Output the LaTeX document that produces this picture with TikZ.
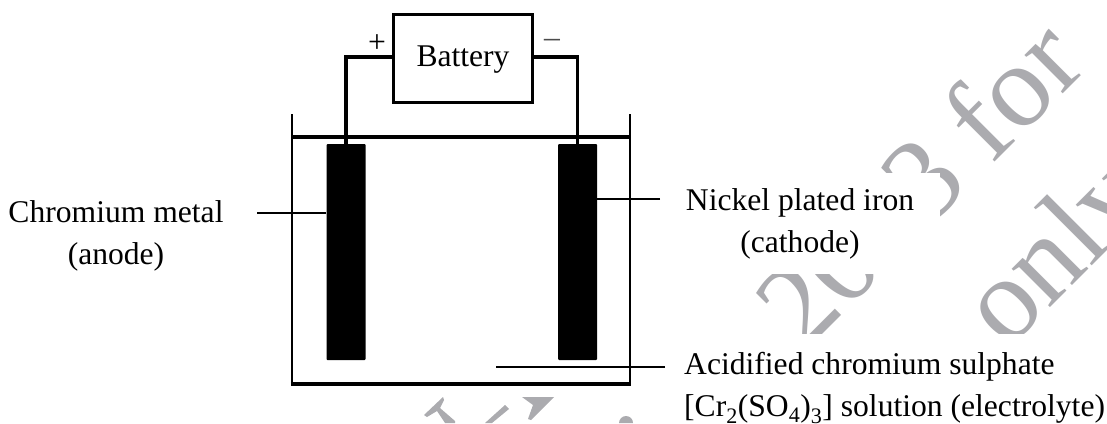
\documentclass[tikz,border=0pt]{standalone}
\usepackage{fontspec}
\setmainfont{Liberation Serif}
\definecolor{wm}{HTML}{ABABAF}
\tikzset{
  wire/.style={line width=3.4pt,line join=miter},
  thin wire/.style={line width=2.8pt},
  lab/.style={font=\fontsize{31.6}{42.5}\selectfont,inner sep=0pt,align=center},
  wmtext/.style={font=\fontsize{118}{118}\selectfont,text=wm,rotate=45,anchor=base west,inner sep=0pt},
  electrode/.style={fill=black,draw=none,rounded corners=1pt}
}
\begin{document}
\begin{tikzpicture}[x=1pt,y=-1pt]
\useasboundingbox (0,0) rectangle (1107,423);
% watermark fragments
\begin{scope}
\clip (880,0) rectangle (1107,172) (940,172) rectangle (1107,333) (745,274) rectangle (880,333);
\node[wmtext] (wma) at (804,353) {2023 for};
\node[wmtext] (wmb) at (1007,351) {only};
\end{scope}
\path[fill=wm] (424,415) -- (443,397) -- (444,400) -- (440,408) -- (455,421) -- (455,423) -- (445,423) -- (437,411) -- (427,417) -- cycle;
\path[fill=wm] (485,423) -- (505,405) -- (509,409) -- (492,423) -- cycle;
\path[fill=wm] (522,397) -- (554,397) -- (531,420) -- (528,419) -- (533,405) -- cycle;
\path[fill=wm] (619,423) arc (180:360:7);
% battery
\node[draw,line width=3pt,minimum width=139pt,minimum height=88pt,inner sep=0pt] (bat) at (462.5,58) {};
\node[font=\fontsize{31.6}{38}\selectfont,inner sep=0pt] (battxt) at (463,60) {Battery};
\node[lab] (plus) at (377,44) {+};
\node[lab,text=black!70] (minus) at (552,43) {--};
% electrodes
\node[electrode,minimum width=39pt,minimum height=216pt,inner sep=0pt] (an) at (346,252) {};
\node[electrode,minimum width=39pt,minimum height=216pt,inner sep=0pt] (ca) at (577.5,252) {};
% tank
\coordinate (tl) at (292,114);
\coordinate (tr) at (630,114);
\coordinate (bl) at (292,384);
\coordinate (br) at (630,384);
\draw[line width=2.4pt] (tl) -- (bl);
\draw[line width=2.4pt] (tr) -- (br);
\draw[line width=3.2pt] ([xshift=-1.2pt]bl) -- ([xshift=1.2pt]br);
\coordinate (lidl) at (292,137);
\coordinate (lidr) at (630,137);
\draw[wire] (lidl) -- (lidr);
% wires
\draw[wire] (bat.west |- 0,57) -| (an.north);
\draw[wire] (bat.east |- 0,57) -| (ca.north);
% labels
\node[lab] (lcr) at (116,236) {Chromium metal\\(anode)};
\node[lab] (lni) at (800,224) {Nickel plated iron\\(cathode)};
\node[lab,anchor=north west,align=left] (lac) at (684,352) {Acidified chromium sulphate\\{[}Cr\textsubscript{2}(SO\textsubscript{4})\textsubscript{3}{]} solution (electrolyte)};
\coordinate (e1) at (257,213);
\coordinate (e2) at (660,199);
\coordinate (e3) at (665,367);
\draw[thin wire] (e1) -- (e1 -| an.west);
\draw[thin wire] (e2) -- (e2 -| ca.east);
\draw[thin wire] (e3) -- (496,367);
\end{tikzpicture}
\end{document}
